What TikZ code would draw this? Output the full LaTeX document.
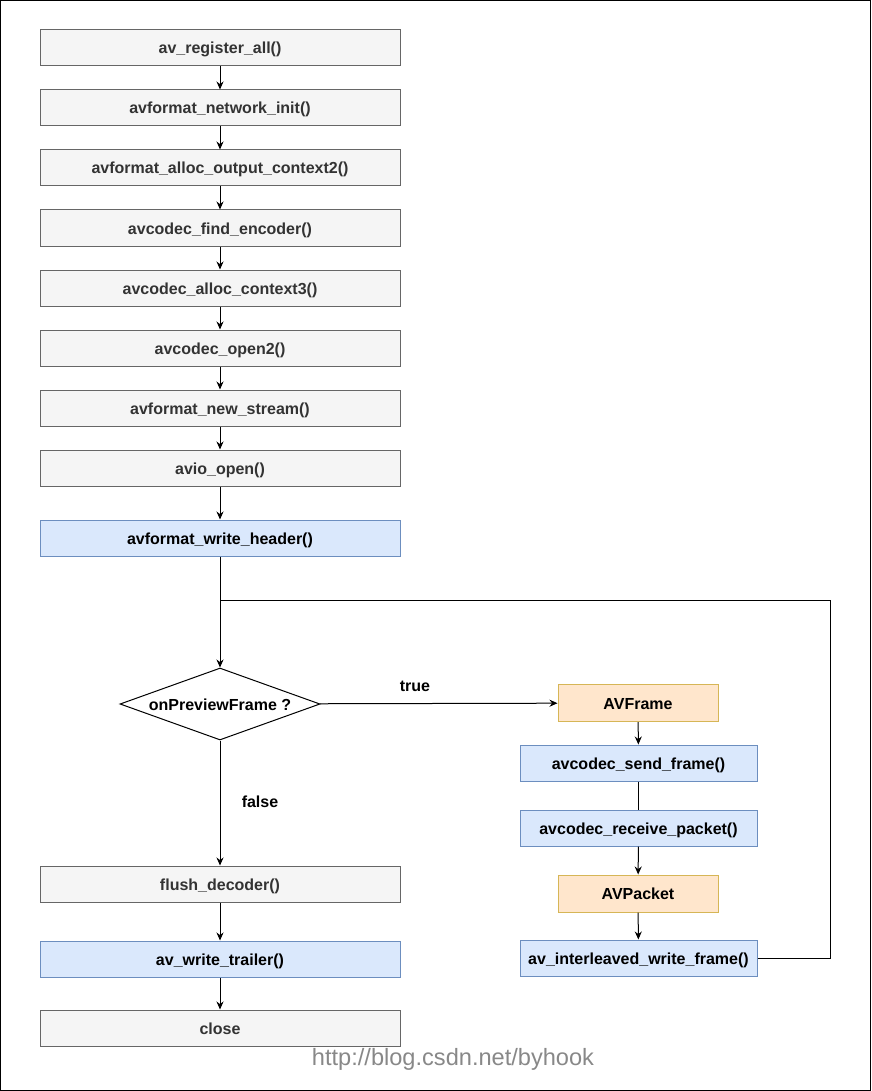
\documentclass[tikz,border=0pt]{standalone}
\usepackage{fontspec}
\setmainfont{Liberation Sans}
\usetikzlibrary{arrows.meta,shapes.geometric}
\definecolor{gfill}{HTML}{F5F5F5}
\definecolor{gline}{HTML}{666666}
\definecolor{gtext}{HTML}{333333}
\definecolor{bfill}{HTML}{DAE8FC}
\definecolor{bline}{HTML}{6C8EBF}
\definecolor{ofill}{HTML}{FFE6CC}
\definecolor{oline}{HTML}{D6B656}
\definecolor{wm}{HTML}{888888}
\tikzset{
  base/.style={rectangle, minimum height=36pt, inner sep=0pt, line width=1pt,
    text height=13pt, text depth=1pt,
    font=\fontsize{16}{18}\selectfont\bfseries},
  graybox/.style={base, draw=gline, fill=gfill, text=gtext, minimum width=360pt},
  bluebox/.style={base, draw=bline, fill=bfill, text=black, minimum width=360pt},
  rbluebox/.style={base, draw=bline, fill=bfill, text=black, minimum width=237pt},
  orangebox/.style={base, draw=oline, fill=ofill, text=black, minimum width=160pt, minimum height=37pt},
  decision/.style={diamond, draw=black, fill=white, line width=1pt, minimum width=200pt, minimum height=72pt, aspect=2.78, inner sep=0pt,
    text height=13pt, text depth=1pt,
    font=\fontsize{16}{18}\selectfont\bfseries},
  lbl/.style={font=\fontsize{16}{18}\selectfont\bfseries, text=black},
  arr/.style={draw=black, line width=1pt, -{Stealth[length=8pt,width=7pt]}},
  ln/.style={draw=black, line width=1pt},
}
\begin{document}
\begin{tikzpicture}[x=1pt,y=-1pt]
\useasboundingbox (0,0) rectangle (871,1091);
\draw[black, line width=1pt] (0.5,0.5) rectangle (870.5,1090.5);

\node[graybox] (n1) at (220,48) {av\_register\_all()};
\node[graybox] (n2) at (220,108) {avformat\_network\_init()};
\node[graybox] (n3) at (220,168) {avformat\_alloc\_output\_context2()};
\node[graybox] (n4) at (220,228) {avcodec\_find\_encoder()};
\node[graybox] (n5) at (220,288) {avcodec\_alloc\_context3()};
\node[graybox] (n6) at (220,348) {avcodec\_open2()};
\node[graybox] (n7) at (220,408) {avformat\_new\_stream()};
\node[graybox] (n8) at (220,468) {avio\_open()};
\node[bluebox] (n9) at (220,538) {avformat\_write\_header()};
\coordinate (j) at (220,600);
\coordinate (jr) at (830,600);
\node[decision] (d) at (220,704) {onPreviewFrame ?};

\node[orangebox] (fr) at (638,703) {AVFrame};
\node[rbluebox] (sf) at (638.5,763) {avcodec\_send\_frame()};
\node[rbluebox] (rp) at (638.5,828) {avcodec\_receive\_packet()};
\node[orangebox] (pk) at (638,893.5) {AVPacket};
\node[rbluebox] (iw) at (638.5,958) {av\_interleaved\_write\_frame()};
\coordinate (iwr) at (830,958);

\node[graybox] (fd) at (220,884) {flush\_decoder()};
\node[bluebox] (wt) at (220,959) {av\_write\_trailer()};
\node[graybox] (cl) at (220,1028) {close};

\node[lbl] (t) at (415,686) {true};
\node[lbl] (f) at (260,802) {false};
\node[font=\fontsize{23.6}{26}\selectfont, text=wm] (w) at (453,1059) {http://blog.csdn.net/byhook};

\draw[arr] (n1) -- (n2);
\draw[arr] (n2) -- (n3);
\draw[arr] (n3) -- (n4);
\draw[arr] (n4) -- (n5);
\draw[arr] (n5) -- (n6);
\draw[arr] (n6) -- (n7);
\draw[arr] (n7) -- (n8);
\draw[arr] (n8) -- (n9);
\draw[arr] (n9) -- (d);
\draw[arr] (d) -- (fr);
\draw[arr] (fr) -- (sf);
\draw[ln] (sf) -- (rp);
\draw[arr] (rp) -- (pk);
\draw[arr] (pk) -- (iw);
\draw[ln] (iw) -- (iwr) -- (jr) -- (j);
\draw[arr] (d) -- (fd);
\draw[arr] (fd) -- (wt);
\draw[arr] (wt) -- (cl);
\end{tikzpicture}
\end{document}
